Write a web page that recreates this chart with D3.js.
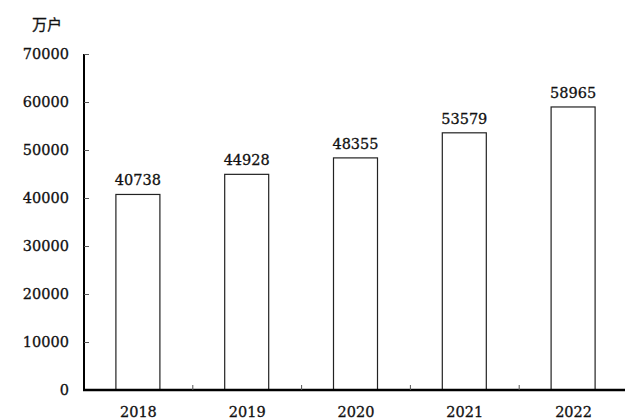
<!DOCTYPE html>
<html>
<head>
<meta charset="utf-8">
<script src="https://cdn.jsdelivr.net/npm/d3@7"></script>
<style>
  html, body { margin: 0; padding: 0; background: #fff; }
  svg text { font-family: "DejaVu Serif", serif; fill: #111; stroke: #111; stroke-width: 0.3px; }
</style>
</head>
<body>
<svg id="chart" width="625" height="420"></svg>
<script>
// data
var years = ["2018", "2019", "2020", "2021", "2022"];
var households = [40738, 44928, 48355, 53579, 58965];
var yTicks = [0, 10000, 20000, 30000, 40000, 50000, 60000, 70000];
var unitLabel = "万户";

var svg = d3.select("#chart");
var margin = { left: 84, right: -3, top: 54, bottom: 30 };
var width = 625 - margin.left - margin.right;
var height = 420 - margin.top - margin.bottom;

var g = svg.append("g")
    .attr("transform", "translate(" + margin.left + "," + margin.top + ")");

var x = d3.scaleBand().domain(years).range([0, width]).paddingInner(0).paddingOuter(0);
var y = d3.scaleLinear().domain([0, 70000]).range([height, 0]);
var barW = 44;

// bars
g.selectAll("rect.bar")
    .data(households)
    .enter()
    .append("rect")
    .attr("class", "bar")
    .attr("x", function (d, i) { return x(years[i]) + x.bandwidth() / 2 - barW / 2 - 0.5; })
    .attr("y", function (d) { return y(d); })
    .attr("width", barW)
    .attr("height", function (d) { return height - y(d); })
    .attr("fill", "#fff")
    .attr("stroke", "#222")
    .attr("stroke-width", 1.2);

// value labels
g.selectAll("text.val")
    .data(households)
    .enter()
    .append("text")
    .attr("class", "val")
    .attr("x", function (d, i) { return x(years[i]) + x.bandwidth() / 2 - 0.5; })
    .attr("y", function (d) { return y(d) - 9; })
    .attr("text-anchor", "middle")
    .style("font-size", "14.5px")
    .text(function (d) { return d; });

// y axis
var yAxis = g.append("g")
    .call(d3.axisLeft(y).tickValues(yTicks).tickSize(-5).tickPadding(15).tickFormat(d3.format("d")));
yAxis.select(".domain").attr("stroke", "#000").attr("stroke-width", 2).attr("d", "M0," + (height + 1) + "V0");
yAxis.selectAll(".tick line").attr("stroke", "#555").attr("stroke-width", 1);
yAxis.selectAll(".tick text")
    .style("font-size", "14.5px")
    .style("font-family", "DejaVu Serif, serif")
    .attr("fill", "#111");

// x axis with ticks between categories
var boundaries = years.map(function (d) { return x(d); }).slice(1);
var xAxis = g.append("g").attr("transform", "translate(0," + height + ")");
xAxis.append("path")
    .attr("d", "M-1,0H" + (width + 2))
    .attr("stroke", "#000")
    .attr("stroke-width", 2.4);
xAxis.selectAll("line.bt")
    .data(boundaries)
    .enter()
    .append("line")
    .attr("class", "bt")
    .attr("x1", function (d) { return d; })
    .attr("x2", function (d) { return d; })
    .attr("y1", 0)
    .attr("y2", -5)
    .attr("stroke", "#555");
xAxis.selectAll("text.xl")
    .data(years)
    .enter()
    .append("text")
    .attr("class", "xl")
    .attr("x", function (d) { return x(d) + x.bandwidth() / 2; })
    .attr("y", 27)
    .attr("text-anchor", "middle")
    .style("font-size", "14.5px")
    .text(function (d) { return d; });

// unit label
svg.append("text")
    .attr("x", 47)
    .attr("y", 30)
    .attr("text-anchor", "middle")
    .style("font-family", "'Noto Sans CJK SC', sans-serif")
    .style("font-size", "15px")
    .text(unitLabel);
</script>
</body>
</html>
